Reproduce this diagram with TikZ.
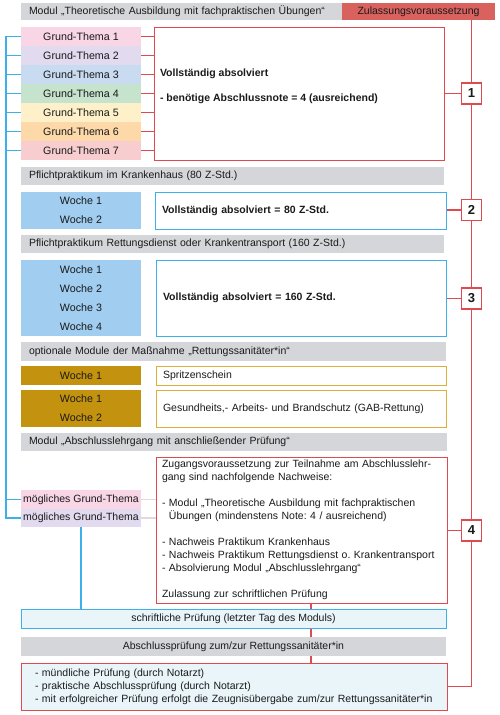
\documentclass[tikz,border=0pt]{standalone}
\usepackage{fontspec}
\setmainfont{Liberation Sans}
\usetikzlibrary{backgrounds}
\frenchspacing
\definecolor{txt}{HTML}{1A1A1A}
\definecolor{redline}{HTML}{DE4A50}
\definecolor{redfill}{HTML}{D9625F}
\definecolor{grayfill}{HTML}{D4D6D9}
\definecolor{blueline}{HTML}{3DB0EA}
\definecolor{wochefill}{HTML}{A0CDF0}
\definecolor{goldfill}{HTML}{C3930F}
\definecolor{goldline}{HTML}{DDAF3A}
\definecolor{lightblue}{HTML}{EAF5FA}
\definecolor{faint}{HTML}{E6D6DE}
\definecolor{gtA}{HTML}{F9D6E6}
\definecolor{gtB}{HTML}{E2DAEE}
\definecolor{gtC}{HTML}{C9DBF1}
\definecolor{gtD}{HTML}{C6E3CD}
\definecolor{gtE}{HTML}{FEF1C9}
\definecolor{gtF}{HTML}{FDD9AA}
\definecolor{gtG}{HTML}{F8CDCF}
\begin{document}
\frenchspacing
\begin{tikzpicture}[x=1pt,y=-1pt,
  every node/.style={font=\fontsize{10.5}{13}\selectfont, text=txt, inner sep=0pt, outer sep=0pt},
  band/.style={fill=grayfill, minimum height=18pt},
  thema/.style={minimum width=120pt, minimum height=19pt},
  woche/.style={fill=wochefill, minimum width=120pt, align=center, font=\fontsize{10.7}{19}\selectfont},
  gold/.style={fill=goldfill, minimum width=120pt, align=center, font=\fontsize{10.7}{19}\selectfont},
  outbox/.style={line width=1pt, align=left, inner xsep=7pt},
  numbox/.style={draw=redline, fill=white, line width=1.2pt, minimum width=20pt, minimum height=21pt, font=\fontsize{13}{13}\selectfont\bfseries},
  redconn/.style={draw=redline, line width=1.2pt},
  blueconn/.style={draw=blueline, line width=1.5pt},
  faintconn/.style={draw=faint, line width=1.2pt}
]
\useasboundingbox (0,0) rectangle (500,715);

% header
\node[band, minimum width=321pt, minimum height=17pt, text width=305pt, align=left, inner xsep=8pt] (h1) at (181.5,11.5) {Modul „Theoretische Ausbildung mit fachpraktischen Übungen“};
\node[fill=redfill, minimum width=153pt, minimum height=17pt] (zul) at (418.5,11.5) {Zulassungsvoraussetzung};

% Grund-Themen
\node[thema, fill=gtA, font=\fontsize{10.7}{13}\selectfont] (gt1) at (81,36.5) {Grund-Thema 1};
\node[thema, fill=gtB, font=\fontsize{10.7}{13}\selectfont] (gt2) at (81,55.5) {Grund-Thema 2};
\node[thema, fill=gtC, font=\fontsize{10.7}{13}\selectfont] (gt3) at (81,74.5) {Grund-Thema 3};
\node[thema, fill=gtD, font=\fontsize{10.7}{13}\selectfont] (gt4) at (81,93.5) {Grund-Thema 4};
\node[thema, fill=gtE, font=\fontsize{10.7}{13}\selectfont] (gt5) at (81,112.5) {Grund-Thema 5};
\node[thema, fill=gtF, font=\fontsize{10.7}{13}\selectfont] (gt6) at (81,131.5) {Grund-Thema 6};
\node[thema, fill=gtG, font=\fontsize{10.7}{13}\selectfont] (gt7) at (81,150.5) {Grund-Thema 7};
\node[draw=redline, line width=1pt, minimum width=290pt, minimum height=133pt] (vollA) at (299,93.5) {};
\node[anchor=west, align=left, font=\fontsize{10.5}{25}\selectfont\bfseries] (vollAtxt) at (160,86.5) {Vollständig absolviert\\- benötige Abschlussnote = 4 (ausreichend)};
\node[numbox] (n1) at (471.5,93.5) {1};

% Krankenhaus
\node[band, minimum width=423pt, text width=407pt, align=left, inner xsep=8pt] (g2) at (232.5,176) {Pflichtpraktikum im Krankenhaus (80 Z-Std.)};
\node[woche, minimum height=37pt] (w2) at (81,210.5) {Woche 1\\Woche 2};
\node[outbox, draw=blueline, minimum width=291pt, text width=277pt, minimum height=37pt, font=\fontsize{10.5}{13}\selectfont\bfseries] (boxB) at (300.5,210.5) {Vollständig absolviert = 80 Z-Std.};
\node[numbox] (n2) at (471.5,210) {2};

% Rettungsdienst
\node[band, minimum width=423pt, text width=407pt, align=left, inner xsep=8pt] (g3) at (232.5,244) {Pflichtpraktikum Rettungsdienst oder Krankentransport (160 Z-Std.)};
\node[woche, minimum height=76pt] (w3) at (81,298) {Woche 1\\Woche 2\\Woche 3\\Woche 4};
\node[outbox, draw=blueline, minimum width=290pt, text width=276pt, minimum height=76pt, font=\fontsize{10.5}{13}\selectfont\bfseries] (boxC) at (301,298) {Vollständig absolviert = 160 Z-Std.};
\node[numbox] (n3) at (471.5,298.5) {3};

% optionale Module
\node[band, minimum width=425pt, minimum height=19pt, text width=409pt, align=left, inner xsep=8pt] (g4) at (233.5,351.5) {optionale Module der Maßnahme „Rettungssanitäter*in“};
\node[gold, minimum height=19pt] (w4) at (81,375.5) {Woche 1};
\node[outbox, draw=goldline, minimum width=290pt, text width=276pt, minimum height=19pt] (boxD) at (301,375.5) {Spritzenschein};
\node[gold, minimum height=37pt] (w5) at (81,408.5) {Woche 1\\Woche 2};
\node[outbox, draw=goldline, minimum width=290pt, text width=276pt, minimum height=37pt] (boxE) at (301,408.5) {Gesundheits,- Arbeits- und Brandschutz (GAB-Rettung)};

% Abschlusslehrgang
\node[band, minimum width=426pt, text width=410pt, align=left, inner xsep=8pt] (g5) at (234,442) {Modul „Abschlusslehrgang mit anschließender Prüfung“};
\node[outbox, draw=redline, minimum width=291pt, minimum height=146pt, inner xsep=6pt, text width=279pt] (boxF) at (301.5,530) {Zugangsvoraussetzung zur Teilnahme am Abschlusslehr-\\gang sind nachfolgende Nachweise:\\[13pt]- Modul „Theoretische Ausbildung mit fachpraktischen\\\phantom{- }Übungen (mindenstens Note: 4 / ausreichend)\\[13pt]- Nachweis Praktikum Krankenhaus\\- Nachweis Praktikum Rettungsdienst o. Krankentransport\\- Absolvierung Modul „Abschlusslehrgang“\\[13pt]Zulassung zur schriftlichen Prüfung};
\node[thema, fill=gtA] (mgt1) at (81,499.5) {mögliches Grund-Thema};
\node[thema, fill=gtB, minimum height=18pt] (mgt2) at (81,518) {mögliches Grund-Thema};
\node[numbox] (n4) at (471.5,530.5) {4};

\node[draw=blueline, fill=lightblue, line width=1pt, minimum width=425pt, minimum height=19pt] (sp) at (233.5,618.5) {schriftliche Prüfung (letzter Tag des Moduls)};
\node[band, minimum width=425pt, minimum height=19pt] (g6) at (233.5,646.5) {Abschlussprüfung zum/zur Rettungssanitäter*in};
\node[draw=redline, fill=lightblue, line width=1pt, minimum width=426pt, minimum height=47pt, text width=398pt, align=left, inner xsep=14pt] (boxG) at (234,686.5) {- mündliche Prüfung (durch Notarzt)\\- praktische Abschlussprüfung (durch Notarzt)\\- mit erfolgreicher Prüfung erfolgt die Zeugnisübergabe zum/zur Rettungssanitäter*in};

\coordinate (bx) at (6,0);
\coordinate (rx) at (471.5,0);
\coordinate (mx) at (311,0);

\begin{scope}[on background layer]
  \draw[blueconn] (gt1.west) -- (gt1.west -| bx) -- (mgt2.west -| bx) -- (mgt2.west);
  \foreach \n in {gt2,gt3,gt4,gt5,gt6,gt7,mgt1} {
    \draw[blueconn] (\n.west) -- (\n.west -| bx);
  }
  \draw[blueconn] (mgt2.south) -- (sp.north -| mgt2.south);
  \foreach \n in {gt1,gt2,gt3,gt4,gt5,gt6,gt7} {
    \draw[redconn] (\n.east) -- (\n.east -| vollA.west);
  }
  \draw[faintconn] (mgt1.east) -- (mgt1.east -| boxF.west);
  \draw[faintconn] (mgt2.east) -- (mgt2.east -| boxF.west);
  \draw[redconn] (zul.south -| rx) -- (boxG.east -| rx) -- (boxG.east);
  \draw[redconn] (vollA.east |- n1) -- (n1.west);
  \draw[redconn] (boxB.east |- n2) -- (n2.west);
  \draw[redconn] (boxC.east |- n3) -- (n3.west);
  \draw[redconn] (boxF.east |- n4) -- (n4.west);
  \draw[redconn] (boxF.south -| mx) -- (boxG.north -| mx);
\end{scope}
\end{tikzpicture}
\end{document}
